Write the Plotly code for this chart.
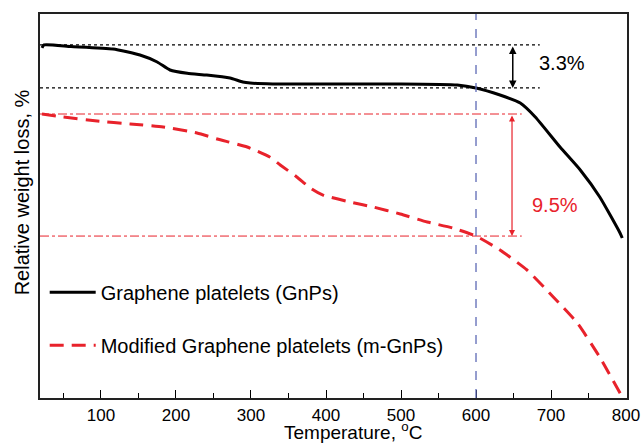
import numpy as np
import plotly.graph_objects as go

# Temperature (°C) and relative weight (%)
gnp_T = [21.3, 24, 60, 116, 152, 175, 192, 215, 241, 272, 289, 299, 329, 400, 500, 575, 600, 632, 659, 679, 712, 739, 765, 792, 795]
gnp_W = [99.77, 100.0, 99.88, 99.69, 99.22, 98.68, 98.06, 97.80, 97.67, 97.44, 97.13, 97.05, 96.98, 96.97, 96.98, 96.90, 96.67, 96.12, 95.50, 94.42, 92.09, 90.31, 88.22, 85.43, 85.04]

mgnp_T = [21.3, 49, 95, 139, 183, 228, 255, 295, 325, 339, 361, 381, 396, 432, 463, 499, 535, 569, 600, 632, 668, 703, 735, 765, 792, 797]
mgnp_W = [94.65, 94.42, 94.11, 93.88, 93.64, 93.18, 92.71, 92.09, 91.32, 90.70, 89.77, 88.84, 88.37, 87.83, 87.44, 86.90, 86.28, 85.81, 85.19, 84.11, 82.56, 80.47, 78.45, 75.81, 73.02, 72.50]

series_names = ["Graphene platelets (GnPs)", "Modified Graphene platelets (m-GnPs)"]
x_ticks = [100, 200, 300, 400, 500, 600, 700, 800]
ref_T = 600
loss_labels = ["3.3%", "9.5%"]

BLACK = "#000000"
RED = "#e8222b"
BLUE = "#5d69b5"
FONT = "Liberation Sans, Arial, sans-serif"

gnp_top = max(gnp_W)
gnp_ref = float(np.interp(ref_T, gnp_T, gnp_W))
m_top = mgnp_W[0]
m_ref = float(np.interp(ref_T, mgnp_T, mgnp_W))

fig = go.Figure()
fig.add_trace(go.Scatter(x=gnp_T, y=gnp_W, mode="lines", name=series_names[0],
                         line=dict(color=BLACK, width=3, shape="spline", smoothing=0.5),
                         legendgroup="a"))
fig.add_trace(go.Scatter(x=mgnp_T, y=mgnp_W, mode="lines", name=series_names[1],
                         line=dict(color=RED, width=3, dash="14px,8px", shape="spline", smoothing=0.5),
                         legendgroup="b"))

x0 = 18.7
x_end_black = 685
x_end_red = 661
shapes = [
    dict(type="line", x0=x0, x1=x_end_black, y0=gnp_top, y1=gnp_top,
         line=dict(color=BLACK, width=1.3, dash="dot")),
    dict(type="line", x0=x0, x1=x_end_black, y0=gnp_ref, y1=gnp_ref,
         line=dict(color=BLACK, width=1.3, dash="dot")),
    dict(type="line", x0=x0, x1=x_end_red, y0=m_top, y1=m_top,
         line=dict(color=RED, width=1, dash="dashdot")),
    dict(type="line", x0=x0, x1=x_end_red, y0=m_ref, y1=m_ref,
         line=dict(color=RED, width=1, dash="dashdot")),
    dict(type="line", x0=ref_T, x1=ref_T, y0=0, y1=1, yref="paper",
         line=dict(color=BLUE, width=1.3, dash="dash")),
]

annotations = [
    dict(x=649, y=gnp_ref, ax=649, ay=gnp_top, xref="x", yref="y", axref="x", ayref="y",
         text="", showarrow=True, arrowhead=2, arrowside="end+start", arrowsize=1,
         arrowwidth=1.5, arrowcolor=BLACK),
    dict(x=648, y=m_ref, ax=648, ay=m_top, xref="x", yref="y", axref="x", ayref="y",
         text="", showarrow=True, arrowhead=2, arrowside="end+start", arrowsize=1,
         arrowwidth=1.2, arrowcolor=RED),
    dict(x=715, y=98.6, xref="x", yref="y", text=loss_labels[0],
         showarrow=False, font=dict(size=20, color=BLACK, family=FONT)),
    dict(x=705, y=87.6, xref="x", yref="y", text=loss_labels[1],
         showarrow=False, font=dict(size=20, color=RED, family=FONT)),
    dict(x=-0.031, y=0.535, xref="paper", yref="paper", text="Relative weight loss, %",
         textangle=-90, showarrow=False, xanchor="center", yanchor="middle",
         font=dict(size=20, color=BLACK, family=FONT)),
    dict(x=0.533, y=-0.1198, xref="paper", yref="paper", text="Temperature, <sup>o</sup>C",
         showarrow=False, xanchor="center", yanchor="bottom", borderpad=0,
         font=dict(size=19, color=BLACK, family=FONT)),
]

fig.update_layout(
    width=642, height=444,
    margin=dict(l=40, r=15, t=14, b=46),
    paper_bgcolor="white", plot_bgcolor="white",
    font=dict(family=FONT, size=17, color=BLACK),
    shapes=shapes, annotations=annotations,
    showlegend=True,
    legend=dict(x=0.008, y=0.326, xanchor="left", yanchor="top",
                bgcolor="rgba(0,0,0,0)", borderwidth=0,
                font=dict(size=20, family=FONT), tracegroupgap=24,
                traceorder="grouped", itemwidth=46),
)
fig.update_xaxes(range=[18.7, 801.3], tickvals=x_ticks, ticks="inside", ticklen=8,
                 tickwidth=1.3, tickcolor=BLACK, showline=True, linecolor="#222",
                 linewidth=2, mirror=True, showgrid=False, zeroline=False, automargin=False,
                 minor=dict(ticks="inside", ticklen=5, tickwidth=1.2, tickcolor=BLACK, dtick=50, tick0=0, showgrid=False),
                 ticklabelstandoff=1)
fig.update_yaxes(range=[72.64, 102.4], showticklabels=False, ticks="", showline=True,
                 linecolor="#222", linewidth=2, mirror=True, showgrid=False, zeroline=False,
                 automargin=False)

fig.write_html("out.html")
